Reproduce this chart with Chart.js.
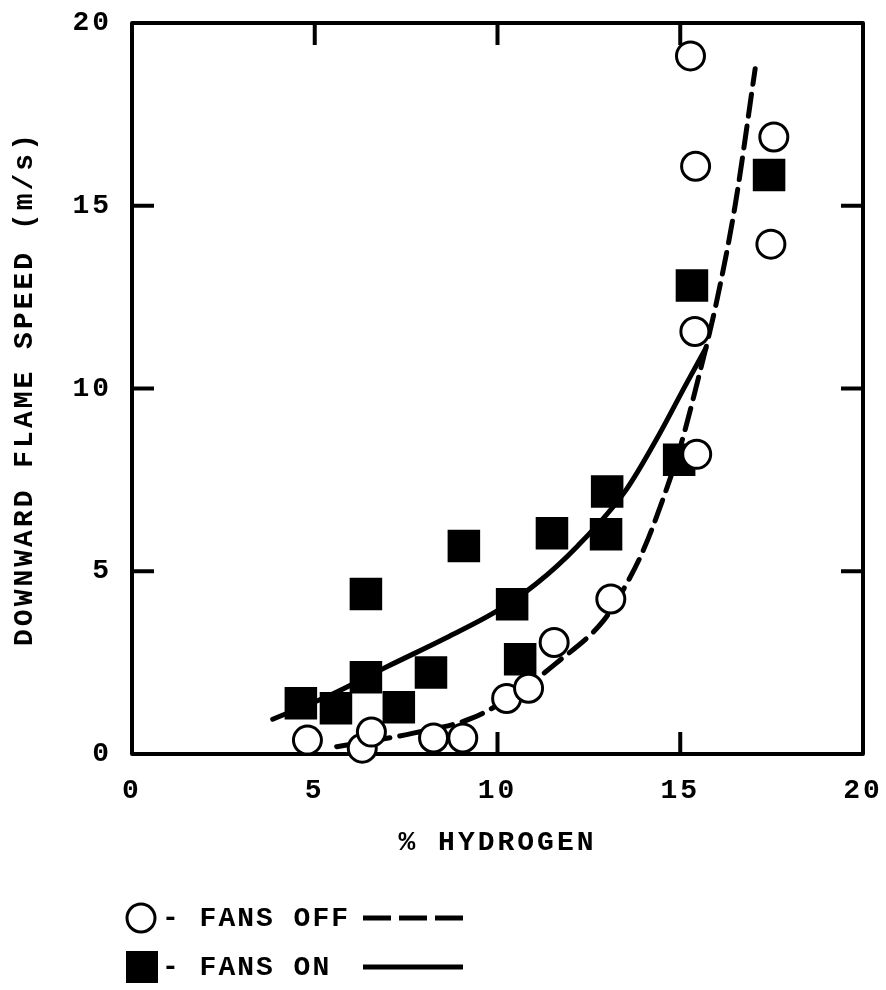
<!DOCTYPE html>
<html>
<head>
<meta charset="utf-8">
<title>Downward flame speed vs % hydrogen</title>
<script src="https://cdn.jsdelivr.net/npm/chart.js@4.4.1/dist/chart.umd.min.js"></script>
<style>
  html, body { margin: 0; padding: 0; background: #fff; }
  #wrap { width: 886px; height: 990px; position: relative; }
</style>
</head>
<body>
<div id="wrap"><canvas id="chart-flame"></canvas></div>
<script>
// values
const fansOffX = [4.8, 6.3, 6.55, 8.25, 9.05, 10.25, 10.85, 11.55, 13.1, 15.45, 15.4, 15.28, 15.42, 17.48, 17.56];
const fansOffY = [0.38, 0.16, 0.6, 0.44, 0.44, 1.52, 1.8, 3.05, 4.24, 8.2, 11.56, 19.1, 16.08, 13.95, 16.88];

const fansOnX = [4.62, 5.58, 6.4, 7.3, 8.18, 6.4, 9.08, 10.4, 10.62, 11.49, 13.0, 12.97, 14.97, 15.32, 17.43];
const fansOnY = [1.39, 1.25, 2.1, 1.28, 2.23, 4.38, 5.69, 4.1, 2.59, 6.04, 7.18, 6.01, 8.05, 12.82, 15.84];

// fitted curves (traced)
const offCurveX = [5.6, 7.7, 9.3, 10.5, 11.6, 12.9, 13.5, 14.0, 14.5, 15.0, 15.5, 16.0, 16.5, 17.05];
const offCurveY = [0.2, 0.57, 0.98, 1.65, 2.48, 3.65, 4.6, 5.6, 6.9, 8.4, 10.3, 12.4, 15.0, 18.75];
const onCurveX = [3.85, 5.4, 7.0, 8.6, 10.0, 11.05, 12.2, 13.5, 14.4, 15.15, 15.7];
const onCurveY = [0.95, 1.6, 2.4, 3.18, 3.92, 4.65, 5.7, 7.2, 8.7, 10.1, 11.1];

const xTicks = [0, 5, 10, 15, 20];
const yTicks = [0, 5, 10, 15, 20];
const innerTicks = [5, 10, 15];

const xTitle = "% HYDROGEN";
const yTitle = "DOWNWARD FLAME SPEED (m/s)";
const legendOff = "- FANS OFF";
const legendOn = "- FANS ON";

(function () {
    "use strict";

    const FONT = "'Liberation Mono', 'DejaVu Sans Mono', monospace";
    const INK = "#000";

    function pts(xs, ys) {
        return xs.map((x, i) => ({ x: x, y: ys[i] }));
    }

    // frame + inward ticks on all four sides
    const framePlugin = {
        id: "frame",
        beforeDraw(chart) {
            chart.ctx.letterSpacing = "3px";
        },
        beforeDatasetsDraw(chart) {
            const { ctx, chartArea: a, scales } = chart;
            const len = 22;
            ctx.save();
            ctx.strokeStyle = INK;
            ctx.lineWidth = 4;
            ctx.lineJoin = "round";
            ctx.strokeRect(a.left, a.top, a.right - a.left, a.bottom - a.top);
            ctx.beginPath();
            innerTicks.forEach(v => {
                const px = scales.x.getPixelForValue(v);
                const py = scales.y.getPixelForValue(v);
                ctx.moveTo(px, a.bottom); ctx.lineTo(px, a.bottom - len);
                ctx.moveTo(px, a.top); ctx.lineTo(px, a.top + len);
                ctx.moveTo(a.left, py); ctx.lineTo(a.left + len, py);
                ctx.moveTo(a.right, py); ctx.lineTo(a.right - len, py);
            });
            ctx.stroke();
            ctx.restore();
        },
        afterDraw(chart) {
            const ctx = chart.ctx;
            ctx.save();
            ctx.letterSpacing = "2px";
            ctx.fillStyle = INK;
            ctx.strokeStyle = INK;
            ctx.font = "bold 28px " + FONT;
            ctx.textBaseline = "middle";
            ctx.textAlign = "left";

            const r1 = 918, r2 = 967;
            // fans off row
            ctx.beginPath();
            ctx.arc(141, r1, 14, 0, Math.PI * 2);
            ctx.fillStyle = "#fff";
            ctx.fill();
            ctx.lineWidth = 3;
            ctx.stroke();
            ctx.fillStyle = INK;
            ctx.fillText(legendOff, 162, r1 + 1);
            ctx.lineWidth = 5;
            ctx.setLineDash([28, 8]);
            ctx.beginPath();
            ctx.moveTo(363, r1); ctx.lineTo(463, r1);
            ctx.stroke();

            // fans on row
            ctx.setLineDash([]);
            ctx.fillRect(126, r2 - 16, 32, 32);
            ctx.fillText(legendOn, 162, r2 + 1);
            ctx.beginPath();
            ctx.moveTo(363, r2); ctx.lineTo(463, r2);
            ctx.stroke();
            ctx.restore();
        },
    };

    function render() {
        const el = document.getElementById("chart-flame");
        const tickFont = { family: FONT, size: 28, weight: "bold" };

        new Chart(el.getContext("2d"), {
            type: "scatter",
            data: {
                datasets: [
                    {
                        label: "FANS OFF",
                        data: pts(fansOffX, fansOffY),
                        pointStyle: "circle",
                        pointRadius: 14,
                        pointHoverRadius: 14,
                        pointBorderWidth: 3,
                        pointBackgroundColor: "#fff",
                        pointBorderColor: INK,
                        order: 1,
                        clip: false,
                    },
                    {
                        label: "FANS ON",
                        data: pts(fansOnX, fansOnY),
                        pointStyle: "rect",
                        pointRadius: 23,
                        pointHoverRadius: 23,
                        pointBorderWidth: 0,
                        pointBackgroundColor: INK,
                        pointBorderColor: INK,
                        order: 2,
                        clip: false,
                    },
                    {
                        label: "fans off fit",
                        data: pts(offCurveX, offCurveY),
                        showLine: true,
                        pointRadius: 0,
                        borderColor: INK,
                        borderWidth: 5,
                        borderDash: [22, 10],
                        borderCapStyle: "round",
                        cubicInterpolationMode: "monotone",
                        order: 3,
                        clip: false,
                    },
                    {
                        label: "fans on fit",
                        data: pts(onCurveX, onCurveY),
                        showLine: true,
                        pointRadius: 0,
                        borderColor: INK,
                        borderWidth: 5,
                        borderCapStyle: "round",
                        cubicInterpolationMode: "monotone",
                        order: 4,
                        clip: false,
                    },
                ],
            },
            options: {
                responsive: true,
                maintainAspectRatio: false,
                animation: false,
                events: [],
                layout: { padding: { left: 0, right: 22, top: 18, bottom: 130 } },
                plugins: { legend: { display: false }, tooltip: { enabled: false } },
                scales: {
                    x: {
                        type: "linear",
                        min: 0, max: 20,
                        afterBuildTicks: s => { s.ticks = xTicks.map(v => ({ value: v })); },
                        afterFit: s => { s.height = 106; s.paddingLeft = 0; s.paddingRight = 0; },
                        grid: { display: false },
                        border: { display: false },
                        ticks: { color: INK, font: tickFont, padding: 12, maxRotation: 0 },
                        title: {
                            display: true, text: xTitle, color: INK, font: tickFont,
                            padding: { top: 0, bottom: 0 },
                        },
                    },
                    y: {
                        type: "linear",
                        min: 0, max: 20,
                        afterBuildTicks: s => { s.ticks = yTicks.map(v => ({ value: v })); },
                        afterFit: s => { s.width = 132; s.paddingTop = 0; s.paddingBottom = 0; },
                        grid: { display: false },
                        border: { display: false },
                        ticks: { color: INK, font: tickFont, padding: 12 },
                        title: {
                            display: true, text: yTitle, color: INK, font: tickFont,
                            padding: { top: 8, bottom: 0 },
                        },
                    },
                },
            },
            plugins: [framePlugin],
        });
    }

    if (document.readyState === "loading") {
        document.addEventListener("DOMContentLoaded", render);
    } else {
        render();
    }
})();
</script>
</body>
</html>
